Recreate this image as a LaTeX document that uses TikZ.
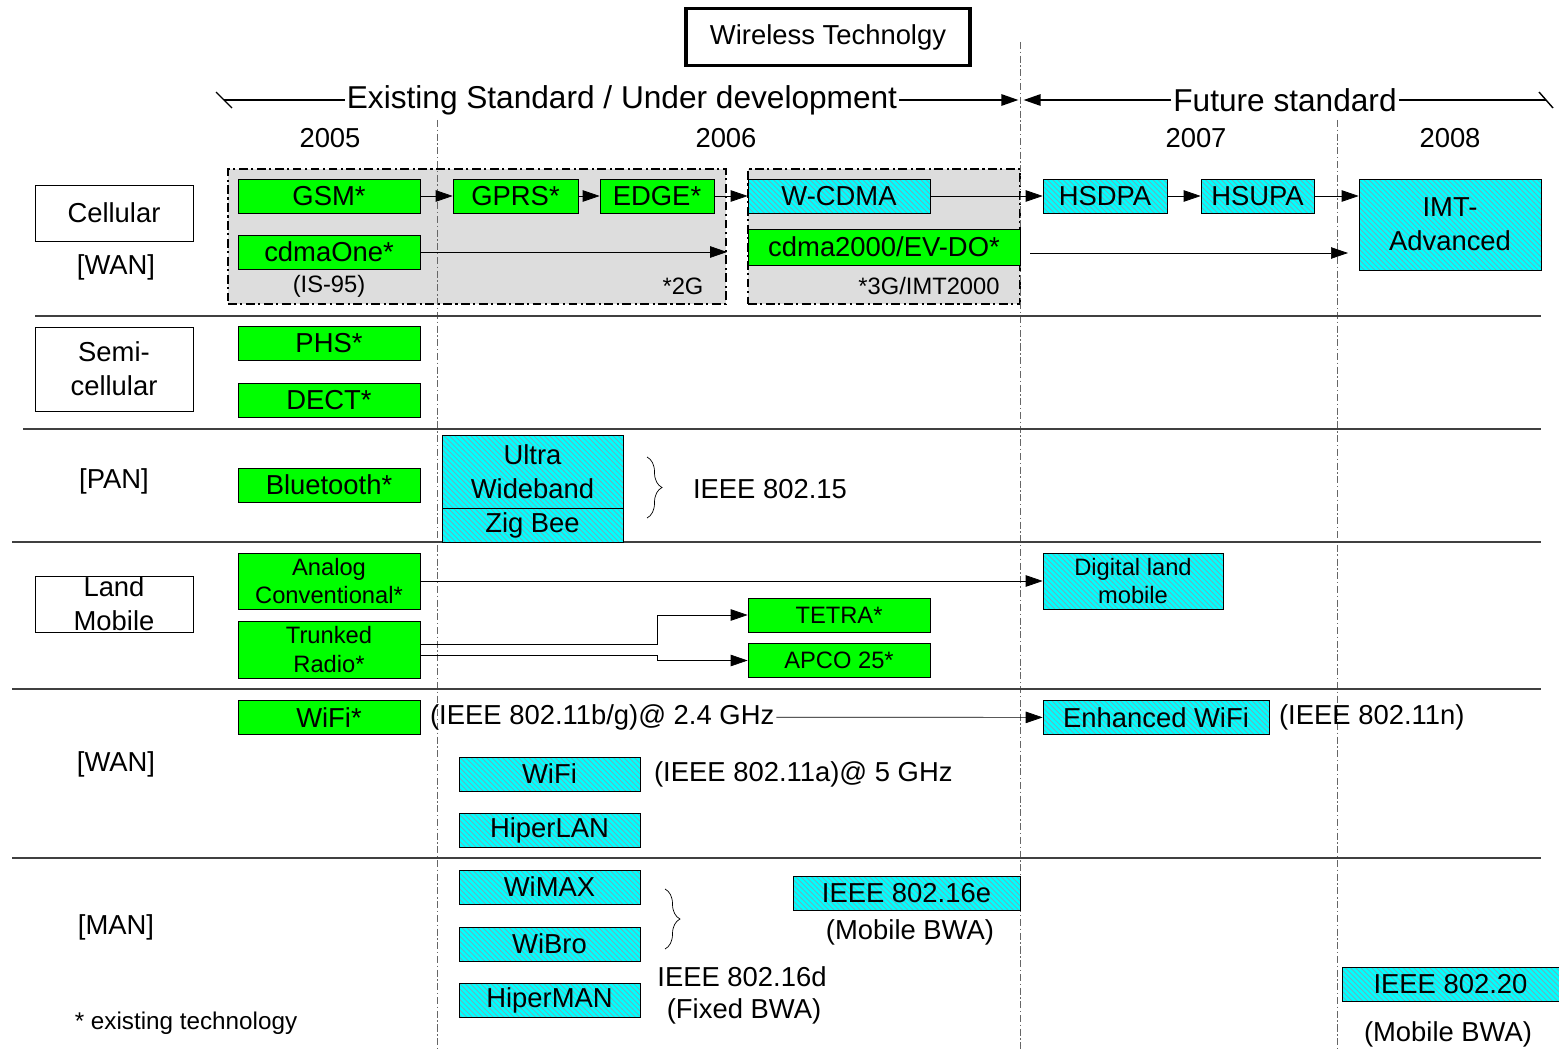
\documentclass[tikz,border=0pt]{standalone}
\usepackage{fontspec}
\setmainfont{Liberation Sans}
\usetikzlibrary{positioning,arrows.meta,patterns,decorations.pathreplacing}

\definecolor{oldgreen}{RGB}{0,255,0}
\definecolor{newcyan}{RGB}{0,255,255}
\definecolor{hatchgray}{RGB}{120,170,180}
\definecolor{groupgray}{RGB}{221,221,221}

\newcommand{\midtxt}{\fontsize{15.6}{19.3}\selectfont}
\newcommand{\bigtxt}{\fontsize{18}{21}\selectfont}
\newcommand{\smalltxt}{\fontsize{13.5}{16.4}\selectfont}
\newcommand{\notetxt}{\fontsize{13.8}{17}\selectfont}

\begin{document}
\begin{tikzpicture}[
  x=0.02cm, y=-0.02cm,
  every node/.style={font=\midtxt, inner sep=1pt},
  tech/.style={draw, inner sep=0pt, minimum width=3.64cm, minimum height=0.68cm, align=center},
  oldtech/.style={tech, fill=oldgreen},
  newtech/.style={tech, preaction={fill=newcyan},
                  pattern=north west lines, pattern color=hatchgray},
  catbox/.style={draw, fill=white, inner sep=0pt, minimum width=3.16cm, align=center},
  group/.style={draw, fill=groupgray, inner sep=0pt, line width=1.3pt,
                dash pattern=on 5pt off 2pt on 1.2pt off 2pt},
  guide/.style={black!60, line width=0.5pt, dash pattern=on 4pt off 1.5pt on 0.8pt off 1.5pt},
  sep/.style={black!75, line width=0.7pt},
  arrow/.style={-{Triangle[length=3.4mm,width=2.3mm]}},
  lbl/.style={font=\smalltxt}
]
  \useasboundingbox (0,0) rectangle (1559,1051);

  % title and time axis
  \node[draw, line width=1.8pt, minimum width=5.68cm, minimum height=1.14cm] (title) at (828,37) {Wireless Technolgy};
  \node[font=\bigtxt] (exist) at (622,100) {Existing Standard / Under development};
  \node[font=\bigtxt] (future) at (1285,100) {Future standard};
  \coordinate (lend) at (224,100);
  \coordinate (split) at (1021,100);
  \coordinate (rend) at (1546,100);
  \draw[line width=0.8pt] (exist.west) -- (lend);
  \draw[line width=0.8pt] (future.east) -- (rend);
  \draw[line width=0.8pt] (lend) ++(-8,-8) -- ++(16,16);
  \draw[line width=0.8pt] (rend) ++(-7,-8) -- ++(14,16);
  \draw[arrow, line width=0.8pt] (exist.east) -- ([xshift=-1.5pt]split);
  \draw[arrow, line width=0.8pt] (future.west) -- ([xshift=1.5pt]split);

  \node (y05) at (330,138) {2005};
  \node (y06) at (726,138) {2006};
  \node (y07) at (1196,138) {2007};
  \node (y08) at (1450,138) {2008};

  % cellular groups
  \node[group, minimum width=9.96cm, minimum height=2.7cm] (g2) at (477,236.5) {};
  \node[group, minimum width=5.44cm, minimum height=2.7cm] (g3) at (884,236.5) {};

  % year guides
  \draw[guide] (437,120) -- (437,1051);
  \draw[guide] (1020,42) -- (1020,1051);
  \draw[guide] (1337,120) -- (1337,1051);

  % row separators
  \draw[sep] (35,316) -- (1541,316);
  \draw[sep] (23,429) -- (1541,429);
  \draw[sep] (12,542) -- (1541,542);
  \draw[sep] (12,689) -- (1541,689);
  \draw[sep] (12,858) -- (1541,858);

  % Cellular
  \node[catbox, minimum height=1.12cm] (cell) at (114,213) {Cellular};
  \node (wan1) at (116,267) {[WAN]};
  \node[oldtech] (gsm) at (329,196) {GSM*};
  \node[oldtech, minimum width=2.5cm] (gprs) at (515.5,196) {GPRS*};
  \node[oldtech, minimum width=2.28cm] (edge) at (657,196) {EDGE*};
  \node[newtech] (wcdma) at (839,196) {W-CDMA};
  \node[newtech, minimum width=2.48cm] (hsdpa) at (1105,196) {HSDPA};
  \node[newtech, minimum width=2.26cm] (hsupa) at (1257.5,196) {HSUPA};
  \node[newtech, minimum height=1.82cm] (imt) at (1450,224.5) {IMT-\\Advanced};
  \node[oldtech] (cdmaone) at (329,252) {cdmaOne*};
  \node[oldtech, minimum width=5.44cm, minimum height=0.72cm] (cdmatwo) at (884,247) {cdma2000/EV-DO*};
  \node[lbl] (is95) at (329,286) {(IS-95)};
  \node[lbl] (gen2) at (683,286) {*2G};
  \node[lbl] (gen3) at (929,286) {*3G/IMT2000};
  \coordinate (imtfrom) at (1030,253);
  \coordinate (imtto) at (1348,253);

  \draw[arrow] (gsm) -- (gprs);
  \draw[arrow] (gprs) -- (edge);
  \draw[arrow] (edge) -- (wcdma);
  \draw[arrow] (wcdma) -- (hsdpa);
  \draw[arrow] (hsdpa) -- (hsupa);
  \draw[arrow] (hsupa.east) -- (hsupa.east -| imt.west);
  \draw[arrow] (cdmaone.east) -- (cdmaone.east -| g2.east);
  \draw[arrow] (imtfrom) -- (imtto);

  % Semi-cellular
  \node[catbox, minimum height=1.68cm] (semi) at (114,369) {Semi-\\cellular};
  \node[oldtech] (phs) at (329,343.5) {PHS*};
  \node[oldtech] (dect) at (329,400) {DECT*};

  % PAN
  \node (pan) at (114,481) {[PAN]};
  \node[oldtech] (bt) at (329,485) {Bluetooth*};
  \node[newtech, minimum width=3.62cm, minimum height=1.46cm] (uwb) at (532.5,471.5) {Ultra\\Wideband};
  \node[newtech, minimum width=3.62cm] (zigbee) at (532.5,525) {Zig Bee};
  \coordinate (pantop) at (647,457);
  \coordinate (panbot) at (647,518);
  \draw[decorate, decoration={brace, amplitude=0.3cm}] (pantop) -- (panbot);
  \node (ieee15) at (770,489) {IEEE 802.15};

  % Land mobile
  \node[catbox, minimum height=1.12cm] (land) at (114,604) {Land\\Mobile};
  \node[oldtech, font=\smalltxt, minimum height=1.12cm] (analog) at (329,581) {Analog\\Conventional*};
  \node[oldtech, font=\smalltxt, minimum height=1.14cm] (trunk) at (329,649.5) {Trunked\\Radio*};
  \node[oldtech, font=\smalltxt] (tetra) at (839,615) {TETRA*};
  \node[oldtech, font=\smalltxt] (apco) at (839,660.5) {APCO 25*};
  \node[newtech, font=\smalltxt, minimum width=3.6cm, minimum height=1.12cm] (dlm) at (1133,581) {Digital land\\mobile};

  \draw[arrow] (analog) -- (dlm);
  \draw[arrow] ([yshift=0.11cm]trunk.east) -- ++(237,0) |- (tetra.west);
  \draw[arrow] ([yshift=-0.11cm]trunk.east) -- ++(237,0) |- (apco.west);

  % WAN (WLAN)
  \node (wan2) at (116,764) {[WAN]};
  \node[oldtech] (wifiold) at (329,717.5) {WiFi*};
  \node[anchor=west] (bg) at (428,717) {(IEEE 802.11b/g)@ 2.4 GHz};
  \node[newtech, minimum width=4.52cm] (ewifi) at (1156,717.5) {Enhanced WiFi};
  \node[anchor=west] (n11) at (1277,717) {(IEEE 802.11n)};
  \node[newtech, minimum width=3.62cm] (wifinew) at (549.5,774) {WiFi};
  \node[anchor=west] (a11) at (652,774) {(IEEE 802.11a)@ 5 GHz};
  \node[newtech, minimum width=3.62cm] (hlan) at (549.5,830) {HiperLAN};

  \draw[arrow] (bg) -- (ewifi);

  % MAN
  \node (man) at (116,927) {[MAN]};
  \node[newtech, minimum width=3.62cm] (wimax) at (549.5,887) {WiMAX};
  \node[newtech, minimum width=3.62cm] (wibro) at (549.5,944) {WiBro};
  \node[newtech, minimum width=3.62cm] (hman) at (549.5,1000) {HiperMAN};
  \coordinate (mantop) at (665,889);
  \coordinate (manbot) at (665,949);
  \draw[decorate, decoration={brace, amplitude=0.3cm}] (mantop) -- (manbot);
  \node (ieee16d) at (742,977) {IEEE 802.16d};
  \node (fixed) at (744,1011) {(Fixed BWA)};
  \node[newtech, minimum width=4.54cm] (ieee16e) at (906.5,893) {IEEE 802.16e};
  \node (mob1) at (910,932) {(Mobile BWA)};
  \node[newtech, minimum width=4.34cm] (ieee20) at (1450.5,984) {IEEE 802.20};
  \node (mob2) at (1448,1034) {(Mobile BWA)};

  \node[font=\notetxt] (legend) at (186,1023) {* existing technology};
\end{tikzpicture}
\end{document}
